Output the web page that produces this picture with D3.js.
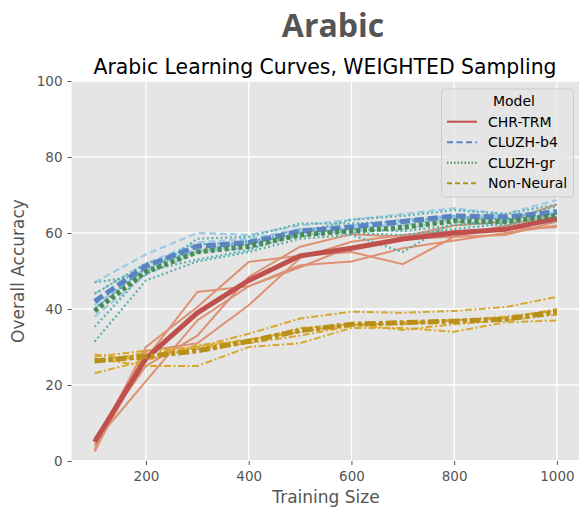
<!DOCTYPE html>
<html lang="en">
<head>
<meta charset="utf-8">
<title>Arabic Learning Curves</title>
<script src="https://d3js.org/d3.v7.min.js"></script>
<style>
  body { margin: 0; background: #fff; font-family: "DejaVu Sans", sans-serif; }
  svg { display: block; }
  .tick text { fill: #555; font-size: 13.5px; }
</style>
</head>
<body>
<script>
// training sizes
var sizes = [100, 200, 300, 400, 500, 600, 700, 800, 900, 1000];

// CHR-TRM: individual runs and mean
var chrRuns = [
  [3.0, 27, 44.5, 46, 51.5, 52.5, 56, 58, 60, 62],
  [4.0, 30, 40.5, 52.4, 54, 55, 51.8, 59, 59.5, 63],
  [6.0, 25, 33, 48.4, 56.4, 59.7, 59, 62, 63, 67.5],
  [5.0, 21, 37, 46, 51, 56.4, 58.5, 59, 62, 65],
  [2.5, 29, 31, 41, 53.4, 57.7, 59.5, 60.5, 61, 61.5]
];
var chrMean = [5, 27, 39, 47.5, 54, 56, 58.4, 60, 61, 63.8];

// CLUZH-b4
var b4Runs = [
  [47, 54.4, 60, 59.5, 62, 63.5, 65, 66.5, 65, 68.7],
  [44, 52, 57.5, 58.5, 61, 62, 63.5, 64.5, 64.5, 66],
  [41, 50.5, 56, 57, 60.5, 61, 62.5, 64, 63, 65.5],
  [40, 51, 55, 56, 59.5, 60.5, 61, 63.5, 63.5, 65],
  [38, 49, 55, 57, 60, 61.5, 62, 64, 64, 64]
];
var b4Mean = [42, 51.3, 56.5, 57.5, 60.5, 61.6, 63, 64.5, 64.2, 65.6];

// CLUZH-gr
var grRuns = [
  [47, 49, 58.5, 59, 62.5, 62.5, 63, 64.5, 63.5, 67],
  [35.3, 50, 53, 55.5, 60, 63.5, 64.5, 66, 65, 67.5],
  [31.4, 47.5, 52.5, 55, 58.5, 59.5, 55, 63, 62, 63],
  [40, 51, 57, 57.5, 61, 60, 59.5, 61, 62.5, 64],
  [44, 52, 55, 58, 59, 61, 60.5, 62, 63, 65]
];
var grMean = [39.5, 49.8, 55, 56.5, 59.5, 60.5, 61.5, 63.2, 63, 64.6];

// Non-Neural
var nnRuns = [
  [23.1, 26.5, 30, 33.5, 37.5, 39.3, 39, 39.5, 40.5, 43.2],
  [27, 25, 25, 30, 31, 35, 35, 34, 36.5, 37],
  [28, 26.5, 30.5, 31.5, 35, 36, 34.5, 36, 37, 38.5],
  [26, 28.5, 29.5, 31, 33, 35.5, 36.5, 37, 37.5, 40],
  [27.5, 29, 30, 32, 34, 36, 36, 37, 38, 39.5]
];
var nnMean = [26.3, 27.5, 29, 31.5, 34.3, 36, 36.4, 36.8, 37.3, 39.3];

var modelNames = ["CHR-TRM", "CLUZH-b4", "CLUZH-gr", "Non-Neural"];
var xTicks = [200, 400, 600, 800, 1000];
var yTicks = [0, 20, 40, 60, 80, 100];

var width = 579, height = 507;
var margin = { left: 71.5, right: -1, top: 81, bottom: 46 };

var svg = d3.select("body").append("svg")
  .attr("width", width)
  .attr("height", height);

var x = d3.scaleLinear().domain([55, 1045]).range([margin.left, width - margin.right]);
var y = d3.scaleLinear().domain([0, 100]).range([height - margin.bottom, margin.top]);

// titles
svg.append("text")
  .attr("x", 333).attr("y", 37)
  .attr("text-anchor", "middle")
  .style("font-family", "'Open Sans', sans-serif")
  .style("font-weight", "bold")
  .style("font-size", "32px")
  .style("fill", "#555")
  .text("Arabic");

svg.append("text")
  .attr("x", 325).attr("y", 74)
  .attr("text-anchor", "middle")
  .style("font-size", "20.4px")
  .style("fill", "#000")
  .text("Arabic Learning Curves, WEIGHTED Sampling");

// panel
svg.append("rect")
  .attr("x", x.range()[0]).attr("y", y(100))
  .attr("width", x.range()[1] - x.range()[0])
  .attr("height", y(0) - y(100))
  .attr("fill", "#e5e5e5");

// grid
svg.append("g").selectAll("line").data(xTicks).join("line")
  .attr("x1", d => x(d)).attr("x2", d => x(d))
  .attr("y1", y(0)).attr("y2", y(100))
  .attr("stroke", "#fff").attr("stroke-width", 1.3);
svg.append("g").selectAll("line").data(yTicks).join("line")
  .attr("x1", x.range()[0]).attr("x2", x.range()[1])
  .attr("y1", d => y(d)).attr("y2", d => y(d))
  .attr("stroke", "#fff").attr("stroke-width", 1.3);

// axes
var xAxis = svg.append("g")
  .attr("transform", "translate(0," + y(0) + ")")
  .call(d3.axisBottom(x).tickValues(xTicks).tickFormat(d3.format("d")).tickSize(4).tickPadding(6));
var yAxis = svg.append("g")
  .attr("transform", "translate(" + x.range()[0] + ",0)")
  .call(d3.axisLeft(y).tickValues(yTicks).tickFormat(d3.format("d")).tickSize(4).tickPadding(5));
[xAxis, yAxis].forEach(function(a) {
  a.select(".domain").remove();
  a.selectAll(".tick line").attr("stroke", "#555");
  a.selectAll(".tick text").style("font-family", "'DejaVu Sans', sans-serif");
});

svg.append("text")
  .attr("x", 326).attr("y", 503)
  .attr("text-anchor", "middle")
  .style("font-size", "17px").style("fill", "#555")
  .text("Training Size");
svg.append("text")
  .attr("transform", "translate(24," + y(50) + ") rotate(-90)")
  .attr("text-anchor", "middle")
  .style("font-size", "17px").style("fill", "#555")
  .text("Overall Accuracy");

var line = d3.line()
  .x(function(d, i) { return x(sizes[i]); })
  .y(function(d) { return y(d); });

var plot = svg.append("g");

function drawRuns(runs, color, dash, w) {
  plot.append("g").selectAll("path").data(runs).join("path")
    .attr("d", line)
    .attr("fill", "none")
    .attr("stroke", color)
    .attr("stroke-width", w)
    .attr("stroke-dasharray", dash);
}
function drawMean(vals, color, dash, w) {
  plot.append("path")
    .datum(vals)
    .attr("d", line)
    .attr("fill", "none")
    .attr("stroke", color)
    .attr("stroke-width", w)
    .attr("stroke-dasharray", dash);
}

drawRuns(chrRuns, "#de9172", null, 2);
drawRuns(b4Runs, "#9ccbe8", "7,3.5", 2.2);
drawRuns(grRuns, "#58b2ac", "2,2.6", 2.2);
drawRuns(nnRuns, "#d6a82c", "7,2.5,2,2.5", 2);

drawMean(chrMean, "#c0504e", null, 5);
drawMean(b4Mean, "#5b83c2", "10,4", 5);
drawMean(grMean, "#4b8b52", "4,3", 5);
drawMean(nnMean, "#b88f18", "11,3,4,3", 5);

// legend
var lg = svg.append("g");
lg.append("rect")
  .attr("x", 441.5).attr("y", 89)
  .attr("width", 132).attr("height", 108)
  .attr("rx", 3)
  .attr("fill", "#e5e5e5").attr("fill-opacity", 0.8)
  .attr("stroke", "#ccc");
lg.append("text")
  .attr("x", 514).attr("y", 106)
  .attr("text-anchor", "middle")
  .style("font-size", "14px").style("fill", "#000")
  .text("Model");

var legendStyle = [
  { color: "#c0504e", dash: null },
  { color: "#5b83c2", dash: "6,3.5" },
  { color: "#4b8b52", dash: "1.5,2" },
  { color: "#b88f18", dash: "5,3" }
];
var entry = lg.selectAll("g.entry").data(modelNames).join("g")
  .attr("class", "entry")
  .attr("transform", function(d, i) { return "translate(0," + (121.7 + i * 20.5) + ")"; });
entry.append("line")
  .attr("x1", 447).attr("x2", 477)
  .attr("stroke", function(d, i) { return legendStyle[i].color; })
  .attr("stroke-width", 2)
  .attr("stroke-dasharray", function(d, i) { return legendStyle[i].dash; });
entry.append("text")
  .attr("x", 488).attr("y", 5)
  .style("font-size", "14px").style("fill", "#000")
  .text(function(d) { return d; });
</script>
</body>
</html>
